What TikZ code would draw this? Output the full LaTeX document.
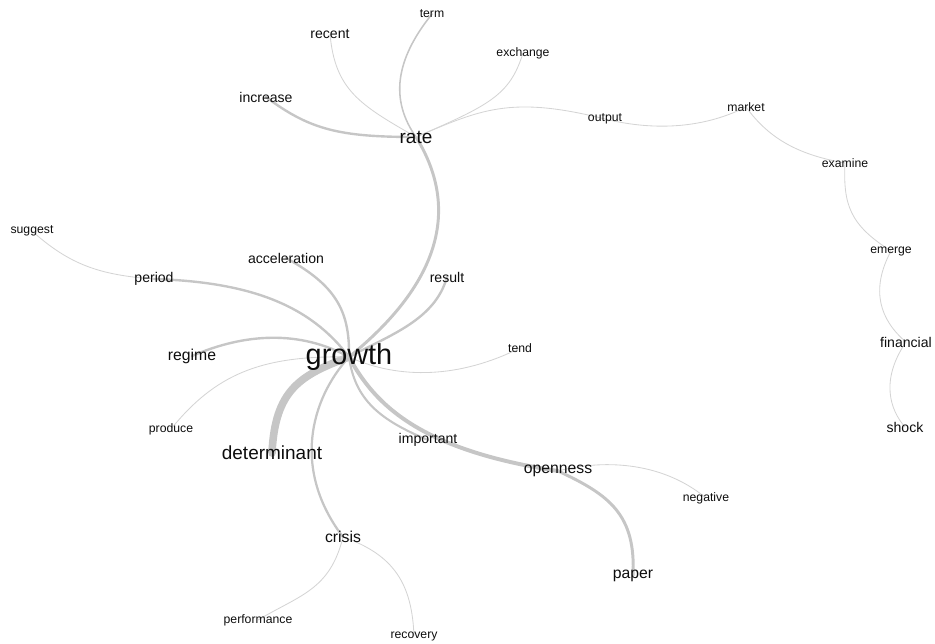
\documentclass[tikz,border=0pt]{standalone}
\usepackage{fontspec}
\setsansfont{Liberation Sans}
\usetikzlibrary{backgrounds}
\definecolor{cedge}{HTML}{C6C6C6}
\definecolor{cfaint}{HTML}{D4D4D4}
\definecolor{cword}{HTML}{0D0D0D}
\tikzset{
  every picture/.style={font=\sffamily},
  word/.style={font=\sffamily\fontsize{#1}{#1}\selectfont, text=cword, inner sep=0pt},
  word/.default=10pt,
  link/.style={draw=cedge, line width=#1, line cap=round},
  link/.default=1.7pt,
  faint/.style={draw=cfaint, line width=0.6pt},
}

\begin{document}
\begin{tikzpicture}[x=0.025cm, y=-0.025cm]
  \useasboundingbox (0,0) rectangle (935,644);
  % words
  \node[word=20.5pt] (growth) at (349,357) {growth};
  \node[word=13.5pt] (rate) at (416,137) {rate};
  \node[word=13.5pt] (determinant) at (272,453) {determinant};
  \node[word=11.2pt] (regime) at (192,356) {regime};
  \node[word=11.2pt] (openness) at (558,471) {openness};
  \node[word=11.2pt] (crisis) at (343,537) {crisis};
  \node[word=11.2pt] (paper) at (633,576) {paper};
  \node[word] (increase) at (266,97) {increase};
  \node[word] (recent) at (330,34) {recent};
  \node[word] (acceleration) at (286,258) {acceleration};
  \node[word] (period) at (154,279) {period};
  \node[word] (result) at (447,277) {result};
  \node[word] (important) at (428,440) {important};
  \node[word] (financial) at (906,342) {financial};
  \node[word] (shock) at (905,427) {shock};
  \node[word=8.7pt] (term) at (432,14) {term};
  \node[word=8.7pt] (exchange) at (523,53) {exchange};
  \node[word=8.7pt] (output) at (605,119) {output};
  \node[word=8.7pt] (market) at (746,107) {market};
  \node[word=8.7pt] (examine) at (845,163) {examine};
  \node[word=8.7pt] (emerge) at (891,251) {emerge};
  \node[word=8.7pt] (suggest) at (32,231) {suggest};
  \node[word=8.7pt] (tend) at (520,348) {tend};
  \node[word=8.7pt] (produce) at (171,429) {produce};
  \node[word=8.7pt] (negative) at (706,498) {negative};
  \node[word=8.7pt] (performance) at (258,620) {performance};
  \node[word=8.7pt] (recovery) at (414,636) {recovery};
  % links
  \begin{scope}[on background layer]
    \draw[link=5.4pt] (growth.center) .. controls (300,375) and (275,390) .. (determinant.center);
    \draw[link=2.8pt] (growth.center) .. controls (375,405) and (420,450) .. (openness.center);
    \draw[link=2.1pt] (growth.center) .. controls (450,275) and (455,200) .. (rate.center);
    \draw[link=2.1pt] (openness.center) .. controls (610,495) and (636,515) .. (paper.center);
    \draw[link] (result.center) .. controls (435,320) and (390,335) .. (growth.center);
    \draw[link] (acceleration.center) .. controls (335,285) and (350,310) .. (growth.center);
    \draw[link] (period.center) .. controls (250,282) and (310,305) .. (growth.center);
    \draw[link] (regime.center) .. controls (245,333) and (300,330) .. (growth.center);
    \draw[link=1.6pt] (growth.center) .. controls (310,400) and (292,470) .. (crisis.center);
    \draw[link=1.5pt] (growth.center) .. controls (355,400) and (380,420) .. (important.center);
    \draw[link] (increase.center) .. controls (310,130) and (340,137) .. (rate.center);
    \draw[link=1.1pt] (term.center) .. controls (395,60) and (390,100) .. (rate.center);
    \draw[faint] (recent.center) .. controls (335,90) and (360,105) .. (rate.center);
    \draw[faint] (exchange.center) .. controls (510,95) and (490,105) .. (rate.center);
    \draw[faint] (rate.center) .. controls (480,110) and (510,95) .. (output.center);
    \draw[faint] (output.center) .. controls (650,130) and (700,130) .. (market.center);
    \draw[faint] (market.center) .. controls (770,140) and (800,155) .. (examine.center);
    \draw[faint] (examine.center) .. controls (843,205) and (850,225) .. (emerge.center);
    \draw[faint] (emerge.center) .. controls (870,290) and (880,320) .. (financial.center);
    \draw[faint] (financial.center) .. controls (880,380) and (890,410) .. (shock.center);
    \draw[faint] (suggest.center) .. controls (70,265) and (100,275) .. (period.center);
    \draw[faint] (produce.center) .. controls (215,375) and (260,355) .. (growth.center);
    \draw[faint] (growth.center) .. controls (400,380) and (460,378) .. (tend.center);
    \draw[faint] (openness.center) .. controls (600,460) and (660,460) .. (negative.center);
    \draw[faint] (crisis.center) .. controls (330,590) and (300,595) .. (performance.center);
    \draw[faint] (crisis.center) .. controls (395,555) and (412,585) .. (recovery.center);
  \end{scope}
\end{tikzpicture}
\end{document}
